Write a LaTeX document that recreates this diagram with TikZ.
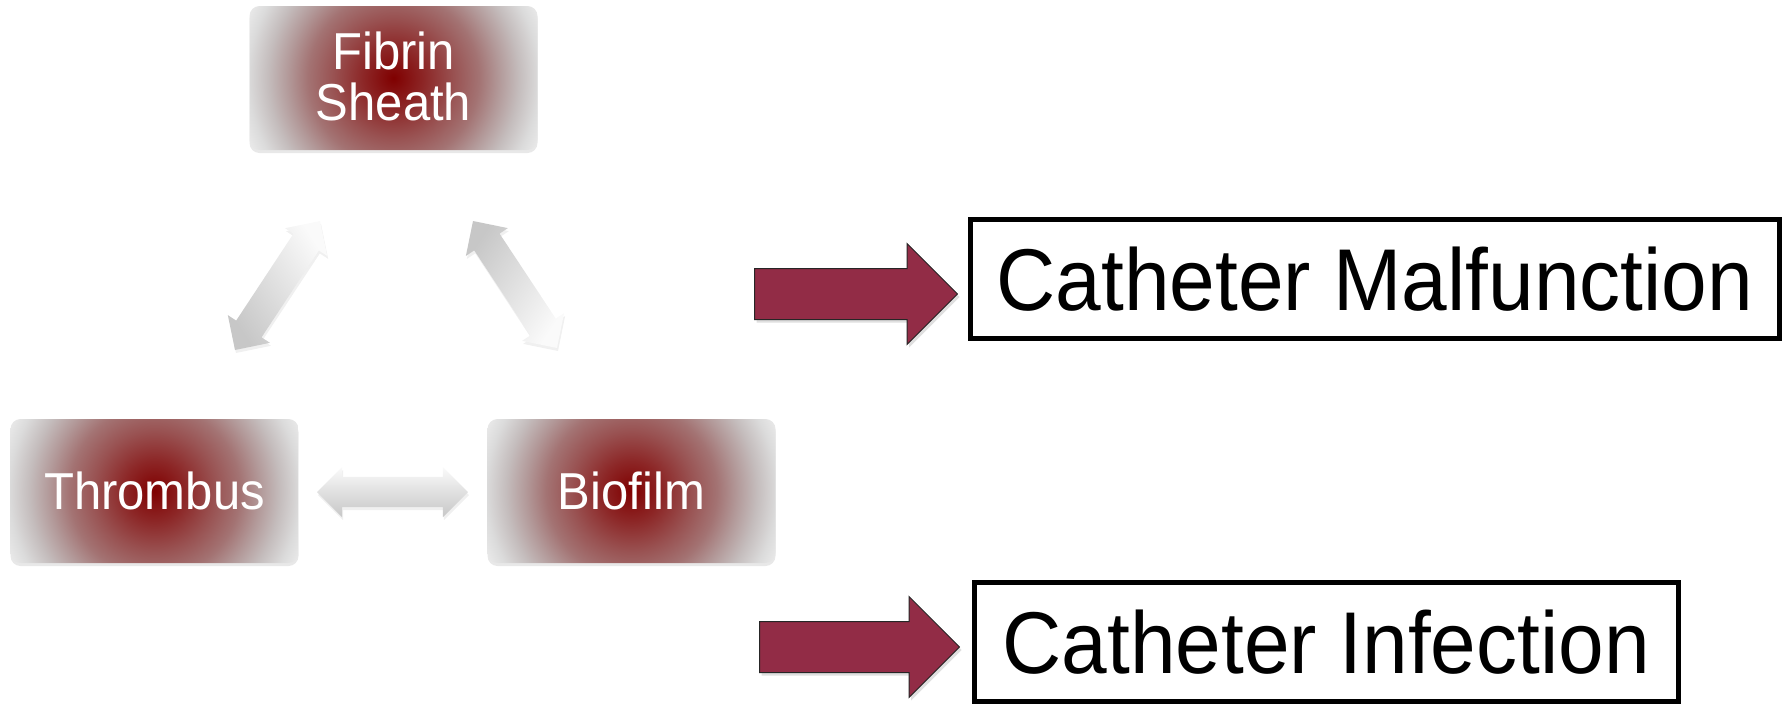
\documentclass[tikz,border=0pt]{standalone}
\usepackage{fontspec}
\setmainfont{Liberation Sans}
\usepackage{graphicx}
\usetikzlibrary{shapes.arrows,shadows,calc}
\definecolor{arrowred}{RGB}{146,44,70}
\pgfdeclareradialshading{redglow}{\pgfpoint{0bp}{0bp}}{%
 rgb(0bp)=(0.50,0,0);
 rgb(30bp)=(0.55,0.15,0.15);
 rgb(60bp)=(0.60,0.32,0.32);
 rgb(85bp)=(0.64,0.45,0.45);
 rgb(105bp)=(0.70,0.60,0.60);
 rgb(125bp)=(0.77,0.74,0.74);
 rgb(145bp)=(0.86,0.86,0.86);
 rgb(165bp)=(0.94,0.94,0.94);
 rgb(180bp)=(0.96,0.96,0.96)}
\newcommand\vstretch[1]{\scalebox{1}[1.06]{#1}}
\tikzset{
 gbox/.style={rounded corners=10pt, minimum width=288pt, minimum height=144pt,
   inner sep=0pt, text=white, align=center,
   font=\fontsize{49}{44}\selectfont,
   drop shadow={shadow xshift=0pt, shadow yshift=-3pt, opacity=0.18},
   path picture={\node[inner sep=0pt, draw=none, rounded corners=0pt] at (path picture bounding box.center) {\pgfuseshading{redglow}};}},
 garrow/.style={double arrow, double arrow head extend=10pt, double arrow tip angle=90,
   inner xsep=0pt, inner ysep=15pt, top color=black!2, bottom color=black!22, draw=none,
   drop shadow={shadow xshift=1pt, shadow yshift=-3pt, opacity=0.12}},
 rarrow/.style={single arrow, single arrow head extend=25pt, single arrow tip angle=90,
   inner xsep=0pt, inner ysep=25pt, fill=arrowred, draw=black!85, line width=1pt,
   anchor=tail,
   drop shadow={shadow xshift=2pt, shadow yshift=-3pt, opacity=0.25}},
 obox/.style={draw=black, line width=5pt, inner sep=0pt, fill=white,
   font=\fontsize{82}{98}\selectfont}
}
\newcommand\grayarrow[3]{%
 \path let \p1=(#1), \p2=(#2), \n1={atan2(\y2-\y1,\x2-\x1)}, \n2={veclen(\x2-\x1,\y2-\y1)} in
  node[garrow, rotate=\n1, minimum height=\n2, shading angle=-\n1] (#3) at ($(#1)!0.5!(#2)$) {};}
\begin{document}
\begin{tikzpicture}[x=1pt,y=-1pt]
\useasboundingbox (0,0) rectangle (1784,705);
% boxes
\node[gbox] (fib) at (393.5,78) {\raisebox{-5pt}[\height][\depth]{\vstretch{\begin{tabular}{@{}c@{}}Fibrin\\Sheath\end{tabular}}}};
\node[gbox] (thr) at (154.5,491) {\vstretch{Thrombus}};
\node[gbox] (bio) at (631.5,491) {\vstretch{Biofilm}};
% gray double arrows
\coordinate (l1) at (235,350); \coordinate (l2) at (320,221);
\coordinate (r1) at (473,221); \coordinate (r2) at (557,348);
\coordinate (h1) at (317,492); \coordinate (h2) at (468,492);
\grayarrow{l1}{l2}{ga1}
\grayarrow{r2}{r1}{ga2}
\grayarrow{h1}{h2}{ga3}
% red arrows
\node[rarrow, minimum height=203pt] (ra1) at (754,294) {};
\node[rarrow, minimum height=200pt] (ra2) at (759,647) {};
% outcome boxes
\node[obox, minimum width=808.5pt, minimum height=119pt] (mal) at (1374.75,279) {\scalebox{1}[1.07]{Catheter Malfunction}};
\node[obox, minimum width=703.5pt, minimum height=119pt] (inf) at (1326.25,642) {\scalebox{1}[1.07]{Catheter Infection}};
\end{tikzpicture}
\end{document}
